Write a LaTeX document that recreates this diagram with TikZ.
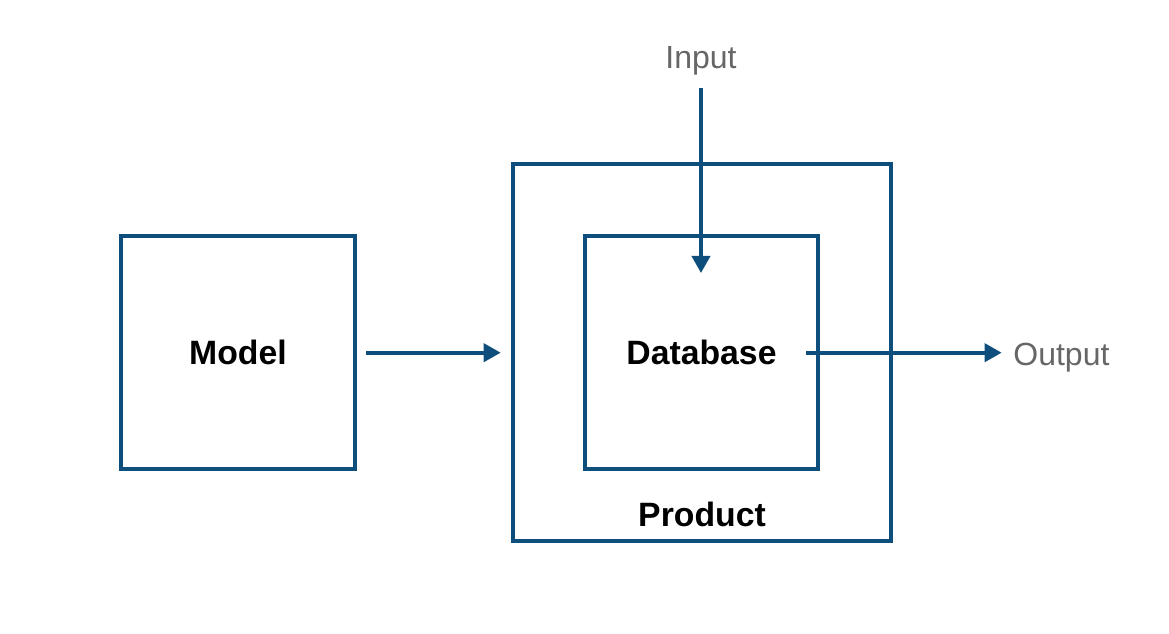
\documentclass[tikz,border=0pt]{standalone}
\usepackage{fontspec}
\setmainfont{Liberation Sans}
\usetikzlibrary{arrows.meta}
\usetikzlibrary{positioning}
\definecolor{boxblue}{RGB}{14,78,124}
\definecolor{labelgrey}{RGB}{102,102,102}

\begin{document}
\begin{tikzpicture}[x=0.01cm,y=-0.01cm]
    % side of the small and the large square
    \def\side{2.33cm}
    \def\wide{3.77cm}

    \tikzset{box/.style={draw=boxblue,line width=1.1pt,minimum width=\side,minimum height=\side,inner sep=0pt,font=\fontsize{9.6}{11}\selectfont\bfseries}}
    \tikzset{flow/.style={draw=boxblue,line width=1.1pt,-{Triangle[length=1.7mm,width=1.8mm]}}}
    \tikzset{io/.style={text=labelgrey,inner sep=0pt,font=\fontsize{9.1}{11}\selectfont}}

    \useasboundingbox (0,0) rectangle (1169,634);

    % boxes
    \node[box] (model) at (238,352.7) {Model};
    \node[box,minimum width=\wide,minimum height=\wide] (product) at (702,352.7) {};
    \node[box] (db) at (701.5,352.2) {Database};
    \node[inner sep=0pt,font=\fontsize{9.6}{11}\selectfont\bfseries] (prodlabel) at (702,514) {Product};

    % input and output
    \node[io] (input) at (701,61) {Input};
    \coordinate (dbin) at (701,273);
    \coordinate (dbout) at (806,352.7);
    \node[io,anchor=west] (output) at (1012.7,358) {Output};

    % arrows
    \draw[flow,shorten <=0.95mm,shorten >=1.07mm] (model) -- (product);
    \draw[flow,shorten <=1.2mm] (input) -- (dbin);
    \draw[flow,shorten >=1.1mm] (dbout) -- (dbout -| output.west);
\end{tikzpicture}
\end{document}
